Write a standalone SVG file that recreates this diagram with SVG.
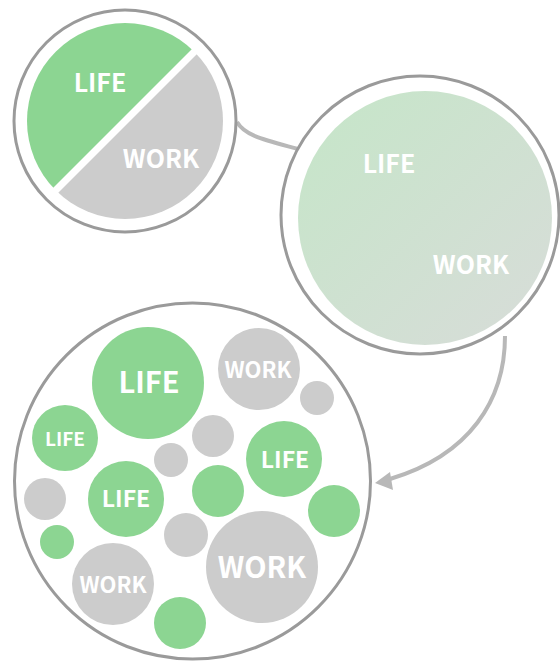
<svg xmlns="http://www.w3.org/2000/svg" width="560" height="661" viewBox="0 0 560 661">
<style>
.ring{fill:#fff;stroke:#9a9a9a;stroke-width:3}
.g{fill:#8cd592}
.k{fill:#cccccc}
.t{fill:#fff;font-family:"Noto Sans CJK JP","Liberation Sans",sans-serif;font-weight:700;text-anchor:middle}
.c{fill:none;stroke:#b8b8b8;stroke-width:4}
</style>
<defs>
<clipPath id="cp1"><circle cx="125" cy="121" r="98"/></clipPath>
<linearGradient id="gr" x1="0" y1="0" x2="1" y2="1">
<stop offset="0" stop-color="#c5e6c8"/>
<stop offset="1" stop-color="#d8dcd9"/>
</linearGradient>
</defs>
<g id="connectors">
<path class="c" d="M237,122 C245,136 265,140 298,149"/>
<path class="c" d="M505,336 C505,400 470,455 390,479"/>
<polygon points="375,483 390,472 393,490" fill="#b8b8b8"/>
</g>
<g id="node-split">
<circle class="ring" cx="125" cy="121" r="111"/>
<g clip-path="url(#cp1)">
<polygon class="g" points="-50,-50 300,-50 -50,300"/>
<polygon class="k" points="300,-50 300,300 -50,300"/>
</g>
<line x1="200" y1="46" x2="50" y2="196" stroke="#fff" stroke-width="7"/>
<text class="t" x="100" y="92" font-size="25">LIFE</text>
<text class="t" x="161" y="168" font-size="25">WORK</text>
</g>
<g id="node-blend">
<circle class="ring" cx="420" cy="215" r="139"/>
<circle cx="425" cy="218" r="127" fill="url(#gr)"/>
<text class="t" x="389" y="173" font-size="25">LIFE</text>
<text class="t" x="471" y="274" font-size="25">WORK</text>
</g>
<g id="node-bubbles">
<circle class="ring" cx="192.5" cy="481" r="178"/>
<circle class="g" cx="148" cy="383" r="56"/>
<text class="t" x="149" y="393" font-size="29">LIFE</text>
<circle class="k" cx="259" cy="369" r="41"/>
<text class="t" x="258" y="378" font-size="22">WORK</text>
<circle class="k" cx="317" cy="398" r="17"/>
<circle class="g" cx="65" cy="438" r="33"/>
<text class="t" x="65" y="446" font-size="19">LIFE</text>
<circle class="k" cx="213" cy="436" r="21"/>
<circle class="k" cx="171" cy="460" r="17"/>
<circle class="g" cx="284" cy="459" r="38"/>
<text class="t" x="285" y="468" font-size="23">LIFE</text>
<circle class="g" cx="218" cy="491" r="26"/>
<circle class="g" cx="126" cy="499" r="38"/>
<text class="t" x="126" y="507" font-size="23">LIFE</text>
<circle class="k" cx="45" cy="499" r="21"/>
<circle class="g" cx="334" cy="511" r="26"/>
<circle class="g" cx="57" cy="542" r="17"/>
<circle class="k" cx="186" cy="535" r="22"/>
<circle class="k" cx="262" cy="567" r="56"/>
<text class="t" x="262" y="578" font-size="29">WORK</text>
<circle class="k" cx="113" cy="584" r="41"/>
<text class="t" x="113" y="593" font-size="22">WORK</text>
<circle class="g" cx="180" cy="623" r="26"/>
</g>
</svg>
